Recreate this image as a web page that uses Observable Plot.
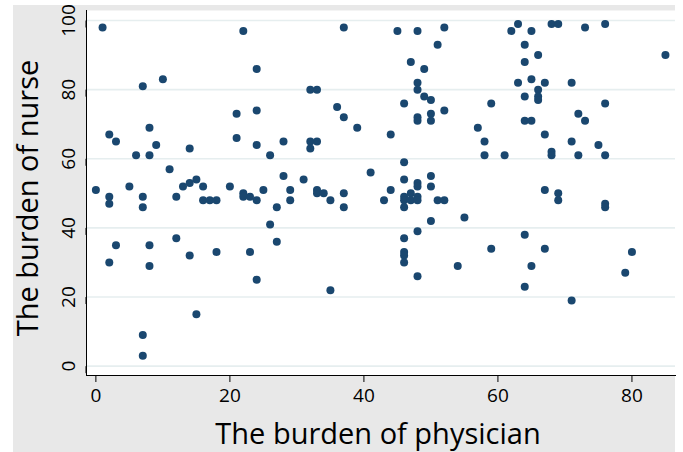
<!DOCTYPE html>
<html>
<head>
<meta charset="utf-8">
<script src="https://cdn.jsdelivr.net/npm/d3@7"></script>
<script src="https://cdn.jsdelivr.net/npm/@observablehq/plot@0.6"></script>
<style>
  html, body { margin: 0; padding: 0; background: #ffffff; }
  #chart { position: absolute; left: 13px; top: 5px; }
</style>
</head>
<body>
<div id="chart"></div>
<script>
const xTitle = "The burden of physician";
const yTitle = "The burden of nurse";
const xTicks = [0, 20, 40, 60, 80];
const yTicks = [0, 20, 40, 60, 80, 100];

// physician burden (x) and nurse burden (y)
const physician = [
  0, 1, 2, 2, 2, 2, 3, 3, 5, 6,
  7, 7, 7, 7, 7, 8, 8, 8, 8, 9,
  10, 11, 12, 12, 13, 14, 14, 14, 15, 15,
  16, 16, 17, 18, 18, 20, 21, 21, 22, 22,
  22, 23, 23, 24, 24, 24, 24, 24, 25, 26,
  26, 27, 27, 28, 28, 29, 29, 31, 32, 32,
  32, 33, 33, 33, 33, 34, 35, 35, 36, 37,
  37, 37, 37, 39, 41, 43, 44, 44, 45, 46,
  46, 46, 46, 46, 46, 46, 46, 46, 46, 47,
  47, 47, 48, 48, 48, 48, 48, 48, 48, 48,
  48, 48, 48, 49, 49, 50, 50, 50, 50, 50,
  50, 51, 51, 52, 52, 52, 54, 55, 57, 58,
  58, 59, 59, 61, 62, 63, 63, 64, 64, 64,
  64, 64, 64, 65, 65, 65, 65, 66, 66, 66,
  66, 67, 67, 67, 67, 68, 68, 68, 69, 69,
  69, 71, 71, 71, 72, 72, 73, 73, 75, 76,
  76, 76, 76, 76, 79, 80, 85
];
const nurse = [
  51, 98, 67, 49, 47, 30, 65, 35, 52, 61,
  81, 49, 46, 9, 3, 69, 61, 35, 29, 64,
  83, 57, 49, 37, 52, 63, 53, 32, 54, 15,
  52, 48, 48, 48, 33, 52, 73, 66, 97, 50,
  49, 49, 33, 86, 74, 64, 48, 25, 51, 61,
  41, 46, 36, 65, 55, 51, 48, 54, 80, 65,
  63, 80, 65, 51, 50, 50, 48, 22, 75, 98,
  72, 50, 46, 69, 56, 48, 67, 51, 97, 76,
  59, 54, 49, 48, 46, 37, 33, 32, 30, 88,
  50, 48, 97, 82, 80, 72, 71, 53, 52, 49,
  48, 39, 26, 86, 78, 77, 73, 71, 55, 52,
  42, 93, 48, 98, 74, 48, 29, 43, 69, 65,
  61, 76, 34, 61, 97, 99, 82, 93, 88, 78,
  71, 38, 23, 97, 83, 71, 29, 90, 80, 78,
  77, 82, 67, 51, 34, 99, 62, 61, 99, 50,
  48, 82, 65, 19, 73, 61, 98, 71, 64, 99,
  76, 61, 47, 46, 27, 33, 90
];
const points = physician.map((p, i) => ({physician: p, nurse: nurse[i]}));

const chart = Plot.plot({
  width: 662,
  height: 447,
  marginLeft: 73,
  marginRight: 0,
  marginTop: 5,
  marginBottom: 77,
  style: {background: "#e8e8e8", fontFamily: "'Open Sans', sans-serif", color: "#000", overflow: "visible"},
  x: {domain: [-1.4, 86.5], ticks: xTicks, label: null},
  y: {domain: [-2.7, 102.9], ticks: yTicks, label: null},
  marks: [
    Plot.frame({fill: "white", stroke: null}),
    Plot.gridY(yTicks, {stroke: "#e6eeef", strokeOpacity: 1, strokeWidth: 1.6}),
    Plot.frame({anchor: "left", stroke: "#000", strokeWidth: 1}),
    Plot.frame({anchor: "bottom", stroke: "#000", strokeWidth: 1}),
    Plot.axisX(xTicks, {tickSize: 7, tickPadding: 6, fontSize: 19, stroke: "#000", fill: "#000", label: null}),
    Plot.axisY(yTicks, {tickSize: 7, tickPadding: 5, fontSize: 19, rotate: -90, textAnchor: "middle", lineAnchor: "bottom", stroke: "#000", fill: "#000", label: null}),
    Plot.dot(points, {x: "physician", y: "nurse", r: 4, fill: "#1a476f", stroke: null}),
    Plot.text([xTitle], {frameAnchor: "bottom", dy: 68, dx: -3, lineAnchor: "bottom", fontSize: 29, fill: "#000"}),
    Plot.text([yTitle], {frameAnchor: "left", textAnchor: "middle", rotate: -90, dx: -49, dy: 5, lineAnchor: "bottom", fontSize: 29, fill: "#000"})
  ]
});
document.getElementById("chart").appendChild(chart);
</script>
</body>
</html>
